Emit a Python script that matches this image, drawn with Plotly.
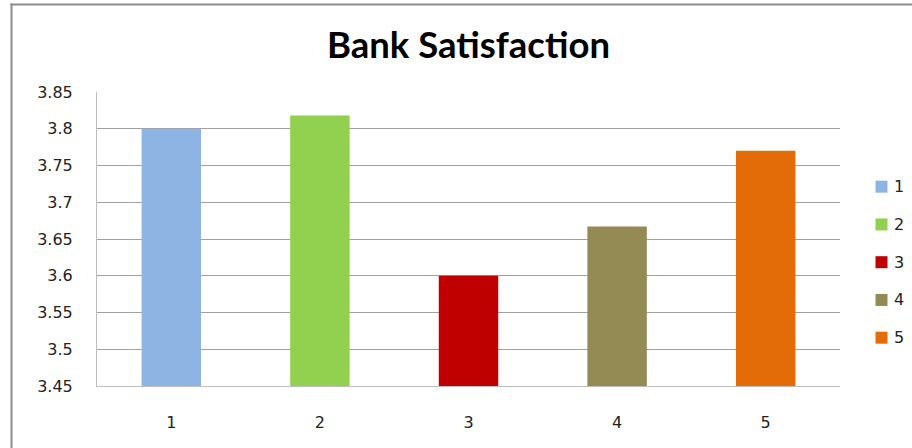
import plotly.graph_objects as go

# Survey categories and mean satisfaction scores
categories = ["1", "2", "3", "4", "5"]
scores = [3.80, 3.818, 3.60, 3.667, 3.77]
bar_colors = ["#8EB4E3", "#92D050", "#C00000", "#948A54", "#E36C09"]

# Value-axis ticks
y_ticks = [3.45, 3.5, 3.55, 3.6, 3.65, 3.7, 3.75, 3.8, 3.85]
y_tick_labels = ["3.45", "3.5", "3.55", "3.6", "3.65", "3.7", "3.75", "3.8", "3.85"]

W, H = 912, 448
ML, MR, MT, MB = 97, 72, 92, 62
plot_w = W - ML - MR
plot_h = H - MT - MB

fig = go.Figure()
for cat, val, col in zip(categories, scores, bar_colors):
    fig.add_trace(go.Bar(
        x=[cat], y=[val], name=cat,
        marker=dict(color=col, line=dict(width=0)),
        width=0.4, showlegend=False,
    ))

def px_x(px):
    return (px - ML) / plot_w

def px_y(py):
    return (H - MB - py) / plot_h

# outer chart frame: top and left edges
frame = dict(color="#8c8c8c", width=2)
fig.add_shape(type="line", xref="paper", yref="paper",
              x0=px_x(10.5), x1=px_x(W), y0=px_y(4.5), y1=px_y(4.5), line=frame)
fig.add_shape(type="line", xref="paper", yref="paper",
              x0=px_x(11.5), x1=px_x(11.5), y0=px_y(3.5), y1=px_y(H), line=frame)

# legend: colour key squares with their category labels
legend_top, legend_step = 186.7, 37.75
for i, (cat, col) in enumerate(zip(categories, bar_colors)):
    cy = legend_top + i * legend_step
    fig.add_shape(type="rect", xref="paper", yref="paper",
                  x0=px_x(875.5), x1=px_x(887.5), y0=px_y(cy + 6), y1=px_y(cy - 6),
                  fillcolor=col, line=dict(width=0))
    fig.add_annotation(text=cat, xref="paper", yref="paper",
                       x=px_x(892), y=px_y(cy), xanchor="left", yanchor="middle",
                       showarrow=False,
                       font=dict(family="DejaVu Sans", size=16, color="#222222"))

fig.update_layout(
    width=W, height=H,
    margin=dict(l=ML, r=MR, t=MT, b=MB, autoexpand=False),
    paper_bgcolor="white", plot_bgcolor="white",
    barmode="overlay",
    showlegend=False,
    title=dict(text="<b>Bank Satisfaction</b>",
               font=dict(family="Lato", size=36.5, color="#000000"),
               x=0.5, xref="paper", xanchor="center",
               y=1 - 45 / H, yref="container", yanchor="middle"),
    xaxis=dict(type="category", categoryorder="array", categoryarray=categories,
               showgrid=False, showline=True, linecolor="#bdbdbd", linewidth=1,
               ticks="", tickfont=dict(family="DejaVu Sans", size=16, color="#222222"),
               ticklabelstandoff=22, fixedrange=True),
    yaxis=dict(range=[3.45, 3.85], tickvals=y_ticks, ticktext=y_tick_labels,
               showgrid=True, gridcolor="#a0a0a0", gridwidth=1,
               showline=True, linecolor="#bdbdbd", linewidth=1,
               zeroline=False, ticks="",
               tickfont=dict(family="DejaVu Sans", size=16, color="#222222"),
               ticklabelstandoff=20, fixedrange=True),
)

fig.write_html("out.html")
